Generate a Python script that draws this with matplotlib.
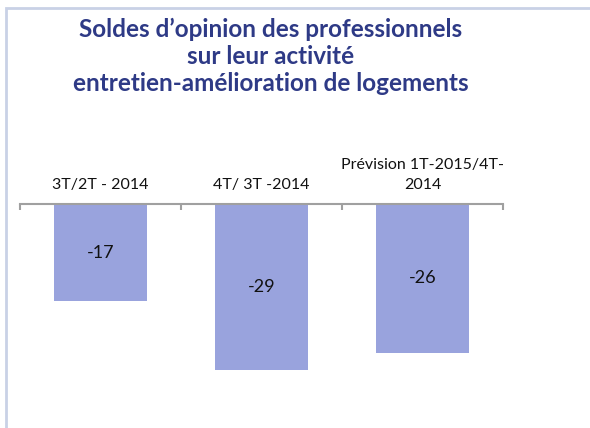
import matplotlib
matplotlib.use("Agg")
import matplotlib.pyplot as plt
from matplotlib.patches import Rectangle

# Daten
categories = ["3T/2T - 2014", "4T/ 3T -2014", "Prévision 1T-2015/4T-\n2014"]
values = [-17, -29, -26]
title = "Soldes d\u2019opinion des professionnels\nsur leur activité\nentretien-amélioration de logements"

bar_color = "#99A3DD"
navy = "#2E3A86"

plt.rcParams["font.family"] = ["Lato", "DejaVu Sans"]

fig = plt.figure(figsize=(5.9, 4.28), dpi=100)

# Rahmen (oben und links sichtbar)
fig.patches.append(Rectangle((6 / 590, -0.1), 1.2, (428 - 7.5) / 428 + 0.1,
                             transform=fig.transFigure, fill=False,
                             edgecolor="#C9D1E6", linewidth=2.0))

fig.text(271 / 590, 0.958, title, ha="center", va="top", fontsize=17.5,
         fontweight="bold", color=navy, linespacing=1.2)

ax = fig.add_axes([20 / 590, 0.0547, 483 / 590, 0.4687])
x = range(len(values))
ax.bar(x, values, width=0.58, color=bar_color, zorder=1)
ax.set_xlim(-0.5, 2.5)
ax.set_ylim(-35, 0)

for xi, v in zip(x, values):
    ax.text(xi, v / 2, str(v), ha="center", va="center", fontsize=13, color="#111111")

for xi, lab in zip(x, categories):
    ax.text(xi, 2.1, lab, ha="center", va="bottom", fontsize=11.5, color="#111111",
            clip_on=False, linespacing=1.55)

for s in ["left", "right", "bottom"]:
    ax.spines[s].set_visible(False)
ax.spines["top"].set_color("#A0A0A0")
ax.spines["top"].set_linewidth(1.5)
ax.set_yticks([])
ax.xaxis.set_ticks_position("top")
ax.set_xticks([-0.5, 0.5, 1.5, 2.5])
ax.set_xticklabels([])
ax.tick_params(axis="x", direction="in", length=4, color="#A0A0A0", width=1.5)

fig.savefig("out.png", dpi=100)
